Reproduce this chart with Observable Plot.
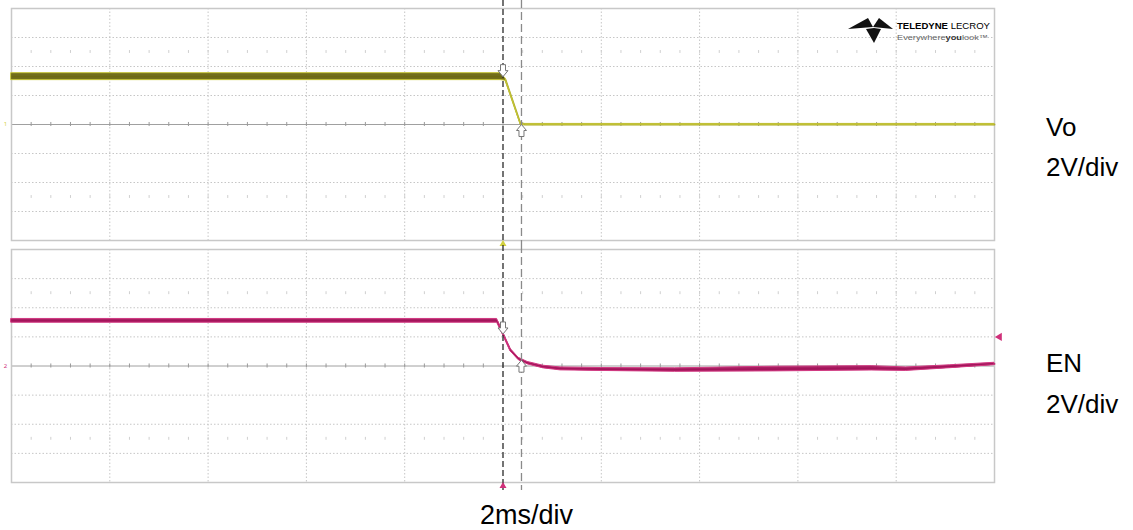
<!DOCTYPE html>
<html>
<head>
<meta charset="utf-8">
<script src="https://cdn.jsdelivr.net/npm/d3@7"></script>
<script src="https://cdn.jsdelivr.net/npm/@observablehq/plot@0.6"></script>
<style>
  html, body { margin: 0; padding: 0; background: #fff; }
  #wrap { position: relative; width: 1133px; height: 530px; overflow: hidden; font-family: "Liberation Sans", Arial, sans-serif; }
  .panel { position: absolute; left: 0; }
  .lbl { position: absolute; font-size: 26px; line-height: 26px; color: #000; white-space: nowrap; }
  #logo { position: absolute; left: 846px; top: 14px; }
</style>
</head>
<body>
<div id="wrap">
  <div id="top" class="panel" style="top:0px"></div>
  <div id="bot" class="panel" style="top:245px"></div>
  <svg id="logo" width="150" height="32" viewBox="0 0 150 32">
    <polygon points="2,15 22,4 27,13" fill="#111"/>
    <polygon points="33,4 47,15 27,13" fill="#111"/>
    <polygon points="20,15 28,14 35,15 28,29" fill="#111"/>
    <text x="51" y="15" font-family="Liberation Sans, Arial" font-size="9.5" textLength="93" lengthAdjust="spacingAndGlyphs"><tspan font-weight="bold">TELEDYNE</tspan> LECROY</text>
    <text x="51" y="25.5" font-family="Liberation Sans, Arial" font-size="7.5" fill="#666" textLength="91" lengthAdjust="spacingAndGlyphs">Everywhere<tspan font-weight="bold" fill="#333">you</tspan>look™</text>
  </svg>
  <div class="lbl" style="left:1046px; top:114px">Vo</div>
  <div class="lbl" style="left:1046px; top:154px">2V/div</div>
  <div class="lbl" style="left:1046px; top:350px">EN</div>
  <div class="lbl" style="left:1046px; top:391px">2V/div</div>
  <div class="lbl" style="left:480px; top:502px; font-size:27px; line-height:27px">2ms/div</div>
</div>
<script>
// ---- Data (time in ms, amplitude in V; 2 ms/div, 2 V/div) ----
const voTime  = [-10, -0.05, 0.05, 0.36, 0.45, 10];
const voVolts = [3.3, 3.3, 3.1, 0.02, 0, 0];
const voNoise = [0.24, 0.24, 0.08, 0.04, 0.04, 0.04];

const enTime  = [-10, -0.12, 0.01, 0.15, 0.32, 0.5, 0.82, 1.17, 2.0, 3.5, 5.5, 7.5, 8.2, 9.1, 10];
const enVolts = [3.1, 3.1, 2.14, 1.1, 0.48, 0.2, -0.07, -0.2, -0.24, -0.28, -0.21, -0.16, -0.22, -0.05, 0.14];
const enNoise = [0.13, 0.13, 0.08, 0.08, 0.08, 0.08, 0.09, 0.1, 0.1, 0.12, 0.16, 0.15, 0.12, 0.1, 0.08];

const cursorTimes = [0, 0.376];          // ms
const voCursorLevels = [3.3, 0];         // V where the cursors meet Vo
const enCursorLevels = [2.2, 0.4];       // V where the cursors meet EN
const enTriggerLevel = [2];              // V
const triggerTime = [0];                 // ms

const divTimes = [-8, -6, -4, -2, 2, 4, 6, 8];
const divVolts = [-6, -4, -2, 2, 4, 6];
const minorTimes = d3.range(-10, 10.001, 0.4);

const voColors = {fill: "#6a6610", edge: "#c4c437", line: "#a9a82a", marker: "#d3d13e"};
const enColors = {fill: "#a3145b", edge: "#d23a82", line: "#b51d66", marker: "#d0307a"};

// outlined cursor arrow (points down); rotate 180 for up
const arrowSymbol = {
  draw(ctx) {
    ctx.moveTo(-2.5, -6); ctx.lineTo(2.5, -6); ctx.lineTo(2.5, 0); ctx.lineTo(5, 0);
    ctx.lineTo(0, 6); ctx.lineTo(-5, 0); ctx.lineTo(-2.5, 0); ctx.closePath();
  }
};

function rows(t, v, n) { return t.map((x, i) => ({t: x, v: v[i], n: n[i]})); }

function panel({data, colors, cursorLevels, marginTop, marginBottom, extTop, extBottom, chan, trigLevel}) {
  const marks = [
    Plot.ruleY(divVolts, {stroke: "#c6c6c6", strokeDasharray: "1.5,2"}),
    Plot.ruleX(divTimes, {stroke: "#c6c6c6", strokeDasharray: "1.5,2"}),
    Plot.ruleX(minorTimes, {y1: 4.9, y2: 5.1, stroke: "#cfcfcf"}),
    Plot.ruleX(minorTimes, {y1: -4.9, y2: -5.1, stroke: "#cfcfcf"}),
    Plot.ruleY([0], {stroke: "#a0a0a0"}),
    Plot.ruleX(minorTimes, {y1: -0.14, y2: 0.14, stroke: "#9a9a9a"}),
    Plot.frame({stroke: "#c8c8c8", strokeWidth: 1.5}),
    Plot.lineY(data, {x: "t", y: "v", stroke: colors.line, strokeWidth: 1.8}),
    Plot.areaY(data, {x: "t", y1: d => d.v - d.n, y2: d => d.v + d.n, fill: colors.fill, stroke: colors.edge, strokeWidth: 1, fillOpacity: 0.95, curve: "linear"}),
    Plot.ruleX(cursorTimes.slice(0, 1), {stroke: "#2a2a2a", strokeWidth: 1.3, strokeDasharray: "6,3", insetTop: -extTop, insetBottom: -extBottom}),
    Plot.ruleX(cursorTimes.slice(1), {stroke: "#8a8a8a", strokeWidth: 1.3, strokeDasharray: "8,4", insetTop: -extTop, insetBottom: -extBottom}),
    Plot.dot([0], {x: cursorTimes[0], y: cursorLevels[0], dy: -6, symbol: arrowSymbol, r: 5, fill: "white", stroke: "#777", strokeWidth: 1}),
    Plot.dot([0], {x: cursorTimes[1], y: cursorLevels[1], dy: 6, symbol: arrowSymbol, rotate: 180, r: 5, fill: "white", stroke: "#777", strokeWidth: 1}),
    Plot.text([chan], {x: -10, y: 0, text: d => d, dx: -6, fontSize: 6, fill: colors.marker}),
    Plot.dot(triggerTime, {x: d => d, frameAnchor: "bottom", dy: 3.5, symbol: "triangle", r: 2.6, fill: colors.marker})
  ];
  if (trigLevel) {
    marks.push(Plot.dot(trigLevel, {x: 10, y: d => d, dx: 5, symbol: "triangle", rotate: -90, r: 3, fill: colors.marker}));
  }
  return Plot.plot({
    width: 1006, height: 245,
    marginLeft: 11, marginRight: 12, marginTop, marginBottom,
    x: {domain: [-10, 10], axis: null},
    y: {domain: [-8, 8], axis: null},
    style: {background: "transparent", overflow: "visible"},
    marks
  });
}

document.getElementById("top").appendChild(panel({
  data: rows(voTime, voVolts, voNoise), colors: voColors, cursorLevels: voCursorLevels,
  marginTop: 8, marginBottom: 5, extTop: 8, extBottom: 5, chan: "1"
}));
document.getElementById("bot").appendChild(panel({
  data: rows(enTime, enVolts, enNoise), colors: enColors, cursorLevels: enCursorLevels,
  marginTop: 4, marginBottom: 8, extTop: 4, extBottom: 8, chan: "2", trigLevel: enTriggerLevel
}));
</script>
</body>
</html>
